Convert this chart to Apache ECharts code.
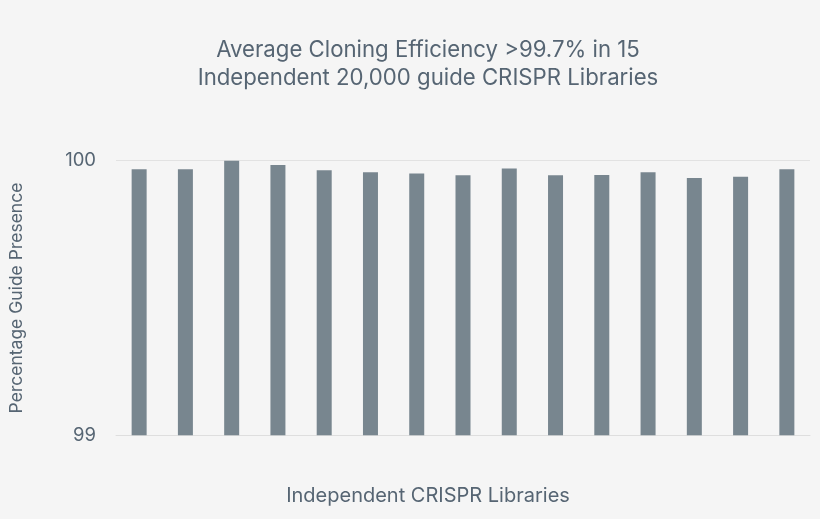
<!DOCTYPE html>
<html>
<head>
<meta charset="utf-8">
<script src="https://cdn.jsdelivr.net/npm/echarts@6/dist/echarts.min.js"></script>
<style>
html,body{margin:0;padding:0;background:#f5f5f5;}
#chart{width:820px;height:519px;}
</style>
</head>
<body>
<div id="chart"></div>
<script>
var categories = ['1','2','3','4','5','6','7','8','9','10','11','12','13','14','15'];
var values = [99.969, 99.969, 100.0, 99.984, 99.965, 99.958, 99.953, 99.947, 99.972, 99.947, 99.948, 99.958, 99.937, 99.942, 99.969];
var yTicks = [99, 100];
var titleLines = ['Average Cloning Efficiency >99.7% in 15', 'Independent 20,000 guide CRISPR Libraries'];
var xName = 'Independent CRISPR Libraries';
var yName = 'Percentage Guide Presence';

var textColor = '#566573';
var font = 'Inter, "Open Sans", sans-serif';
function label(text, x, y, size) {
  return {
    type: 'text', x: x, y: y, silent: true,
    style: {text: text, fill: textColor, fontSize: size, fontFamily: font, align: 'center', verticalAlign: 'middle'}
  };
}
var chart = echarts.init(document.getElementById('chart'));
chart.setOption({
  backgroundColor: '#f5f5f5',
  animation: false,
  graphic: [
    label(titleLines[0], 428, 50, 22.2),
    label(titleLines[1], 428, 78.4, 22.2),
    label(xName, 428, 495.5, 20)
  ],
  grid: {left: 116, right: 10, top: 160.7, bottom: 519 - 435.3, containLabel: false},
  xAxis: {
    type: 'category',
    data: categories,
    axisLine: {show: true, lineStyle: {color: '#dedede', width: 1}},
    axisTick: {show: false},
    axisLabel: {show: false}
  },
  yAxis: {
    type: 'value',
    min: yTicks[0],
    max: yTicks[yTicks.length - 1],
    interval: 1,
    name: yName,
    nameLocation: 'middle',
    nameGap: 90,
    nameTextStyle: {color: textColor, fontSize: 17.5, fontFamily: font},
    axisLine: {show: false},
    axisTick: {show: false},
    axisLabel: {color: textColor, fontSize: 18.5, fontFamily: font, margin: 20},
    splitLine: {show: true, lineStyle: {color: '#e2e2e2', width: 1}}
  },
  series: [{
    type: 'bar',
    data: values,
    barWidth: 15,
    itemStyle: {color: '#78868f'}
  }]
});
</script>
</body>
</html>
